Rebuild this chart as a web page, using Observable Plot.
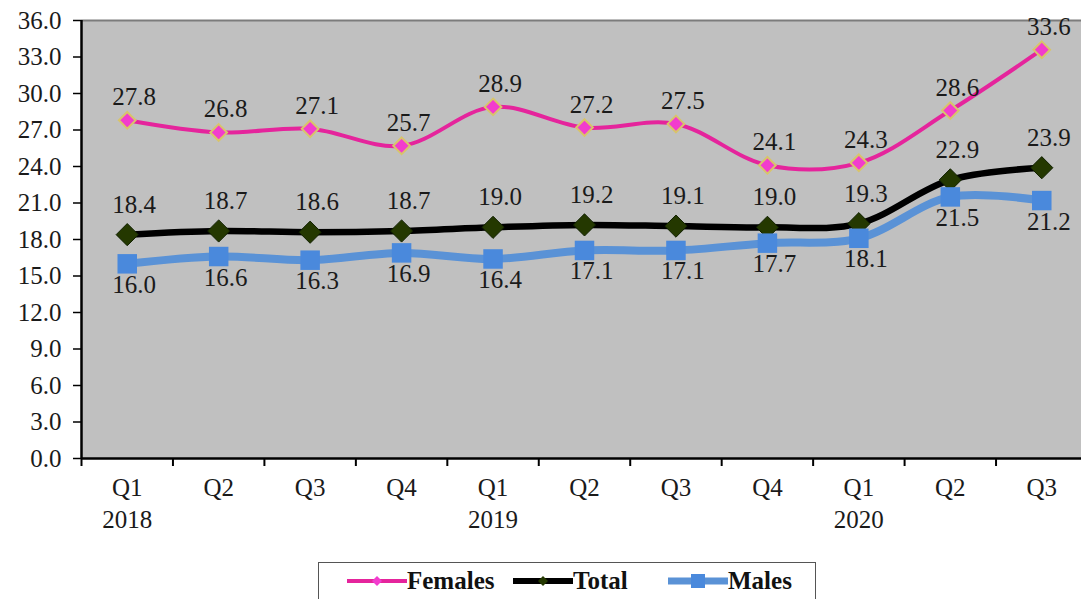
<!DOCTYPE html>
<html>
<head>
<meta charset="utf-8">
<script src="https://cdn.jsdelivr.net/npm/d3@7"></script>
<script src="https://cdn.jsdelivr.net/npm/@observablehq/plot@0.6"></script>
<style>
  html, body { margin: 0; padding: 0; background: #fff; overflow: hidden; }
  #wrap { position: relative; width: 1081px; height: 599px; }
  #legend {
    position: absolute; left: 318px; top: 562px; width: 498px; height: 50px;
    border: 1.5px solid #555; background: #fff; box-sizing: border-box;
    font-family: "Liberation Serif", Tinos, "DejaVu Serif", serif; font-weight: bold; font-size: 25px; color: #111;
  }
  #legend .item { position: absolute; top: 4px; display: flex; align-items: center; height: 28px; }
  #legend svg { display: block; }
</style>
</head>
<body>
<div id="wrap"><div id="chart"></div><div id="legend"></div></div>
<script>
// Quarterly rates, 2018 Q1 – 2020 Q3
const quarters = ["Q1", "Q2", "Q3", "Q4", "Q1", "Q2", "Q3", "Q4", "Q1", "Q2", "Q3"];
const years = ["2018", "", "", "", "2019", "", "", "", "2020", "", ""];
const females = [27.8, 26.8, 27.1, 25.7, 28.9, 27.2, 27.5, 24.1, 24.3, 28.6, 33.6];
const total = [18.4, 18.7, 18.6, 18.7, 19.0, 19.2, 19.1, 19.0, 19.3, 22.9, 23.9];
const males = [16.0, 16.6, 16.3, 16.9, 16.4, 17.1, 17.1, 17.7, 18.1, 21.5, 21.2];
const yTicks = d3.range(0, 37, 3);

const rows = (values) => values.map((v, i) => ({i, v}));
const F = rows(females), T = rows(total), M = rows(males);

const colors = {females: "#e5249c", femalesDot: "#f23ccd", femalesEdge: "#d8c46a",
                total: "#000000", totalDot: "#243800", males: "#5a92d6", malesDot: "#4a89dc"};

const fontFamily = "'Liberation Serif', Tinos, 'DejaVu Serif', serif";

const chart = Plot.plot({
  width: 1081,
  height: 545,
  marginLeft: 81,
  marginRight: -6,
  marginTop: 20,
  marginBottom: 87,
  x: {type: "linear", domain: [-0.5, 10.5]},
  y: {domain: [0, 36]},
  style: {fontFamily, fontSize: "25px", color: "#1a1a1a", background: "transparent", overflow: "visible"},
  marks: [
    Plot.frame({fill: "#c0c0c0", stroke: null}),
    Plot.ruleY([36], {stroke: "#7c7c7c", strokeWidth: 2}),
    Plot.axisY({ticks: yTicks, tickFormat: (d) => d.toFixed(1), tickSize: 8, tickPadding: 12,
                label: null, stroke: "#000", strokeWidth: 1.5}),
    Plot.axisX({ticks: d3.range(11), tickFormat: (i) => quarters[i], tickSize: 0, tickPadding: 20, label: null}),
    Plot.axisX({ticks: [0, 4, 8], tickFormat: (i) => years[i], tickSize: 0, tickPadding: 52, label: null}),
    Plot.axisX({ticks: d3.range(-0.5, 10, 1), tickFormat: () => "", tickSize: 8, label: null,
                stroke: "#000", strokeWidth: 2}),
    Plot.ruleX([-0.5], {stroke: "#000", strokeWidth: 2.5}),
    Plot.ruleY([0], {stroke: "#000", strokeWidth: 2.5}),

    // Total
    Plot.line(T, {x: "i", y: "v", stroke: colors.total, strokeWidth: 6.5, curve: "catmull-rom"}),
    // Males
    Plot.line(M, {x: "i", y: "v", stroke: colors.males, strokeWidth: 8, curve: "catmull-rom"}),
    Plot.dot(T, {x: "i", y: "v", symbol: "diamond2", r: 10, fill: colors.totalDot, stroke: "#102000", strokeWidth: 1}),
    Plot.dot(M, {x: "i", y: "v", symbol: "square", r: 11, fill: colors.malesDot, stroke: null}),
    // Females
    Plot.line(F, {x: "i", y: "v", stroke: colors.females, strokeWidth: 4, curve: "catmull-rom"}),
    Plot.dot(F, {x: "i", y: "v", symbol: "diamond2", r: 7.5, fill: colors.femalesDot, stroke: colors.femalesEdge, strokeWidth: 2}),

    // Value labels
    Plot.text(F, {x: "i", y: "v", text: (d) => d.v.toFixed(1), dy: -23, dx: 7, fill: "#1a1a1a"}),
    Plot.text(T, {x: "i", y: "v", text: (d) => d.v.toFixed(1), dy: -30, dx: 7, fill: "#1a1a1a"}),
    Plot.text(M, {x: "i", y: "v", text: (d) => d.v.toFixed(1), dy: 21, dx: 7, fill: "#1a1a1a"})
  ]
});
document.getElementById("chart").appendChild(chart);

// Legend below the chart
const legendItems = [
  {label: "Females", left: 28, line: colors.females, lw: 4, sym: "diamond", fill: colors.femalesDot, size: 5},
  {label: "Total", left: 194, line: colors.total, lw: 6, sym: "diamond", fill: colors.totalDot, size: 5},
  {label: "Males", left: 349, line: colors.males, lw: 7, sym: "square", fill: colors.malesDot, size: 7}
];
const legend = document.getElementById("legend");
for (const it of legendItems) {
  const item = document.createElement("div");
  item.className = "item";
  item.style.left = it.left + "px";
  const w = 60, h = 24, cx = w / 2, cy = h / 2;
  const marker = it.sym === "square"
    ? `<rect x="${cx - it.size}" y="${cy - it.size}" width="${2 * it.size}" height="${2 * it.size}" fill="${it.fill}"/>`
    : `<path d="M${cx},${cy - it.size}L${cx + it.size},${cy}L${cx},${cy + it.size}L${cx - it.size},${cy}Z" fill="${it.fill}"/>`;
  item.innerHTML = `<svg width="${w}" height="${h}"><line x1="0" x2="${w}" y1="${cy}" y2="${cy}" stroke="${it.line}" stroke-width="${it.lw}"/>${marker}</svg><span>${it.label}</span>`;
  legend.appendChild(item);
}
</script>
</body>
</html>
